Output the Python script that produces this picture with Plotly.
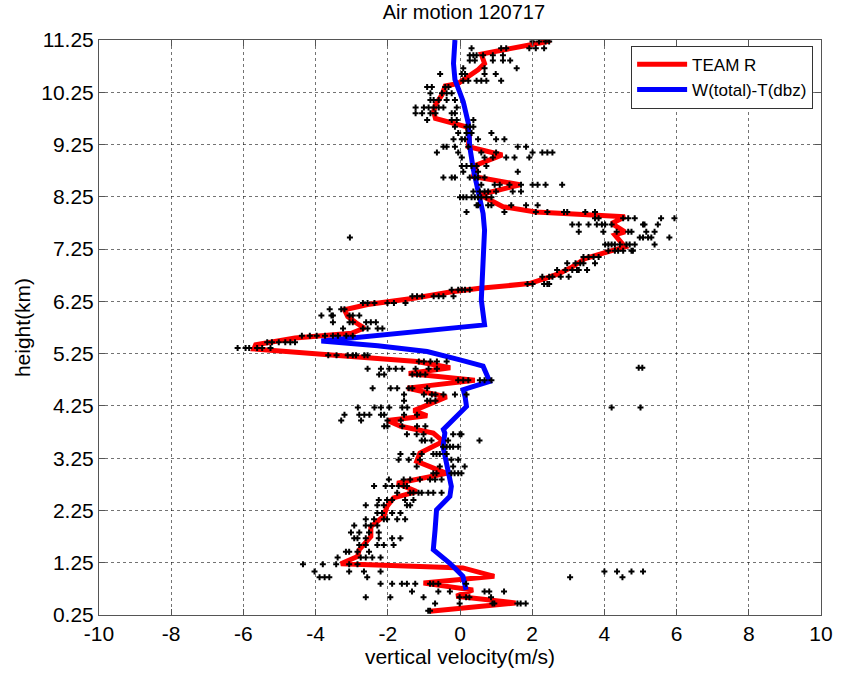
import plotly.graph_objects as go

# ---------------- data ----------------
team_r_x = [2.50, 2.42, 0.59, 0.68, 0.50, 0.18, -0.05, -0.41, -0.50, -0.68, -0.73, -0.68, 0.18, 0.27, 0.23,
            1.17, 0.46, 0.37, 1.66, 0.55, 1.19, 2.10, 3.74, 4.57, 4.20, 4.57, 4.29, 4.57, 4.11, 3.47, 3.11,
            2.74, 2.37, 1.92, 0.55, -0.27, -1.28, -2.56, -3.20, -3.11, -2.88, -2.65, -3.01, -4.57, -5.66,
            -5.71, -3.65, -2.28, -1.19, -0.27, -1.42, 0.41, -1.46, -0.37, -1.28, -0.91, -2.01, -1.64,
            -0.74, -0.47, -1.11, -1.20, -0.37, -1.74, -1.20, -1.84, -2.02, -2.11, -2.47, -2.47, -2.79,
            -2.84, -3.30, 0.08, 0.95, -1.01, 0.36, -0.10, 1.54, -0.83]
team_r_y = [11.25, 11.22, 10.98, 10.80, 10.68, 10.52, 10.42, 10.37, 10.20, 10.01, 9.88, 9.75, 9.59, 9.47, 9.21,
            9.05, 8.86, 8.64, 8.48, 8.29, 8.06, 7.96, 7.90, 7.87, 7.74, 7.58, 7.52, 7.29, 7.20, 7.07, 6.91,
            6.78, 6.69, 6.59, 6.50, 6.43, 6.31, 6.19, 6.09, 5.96, 5.84, 5.74, 5.64, 5.55, 5.42,
            5.34, 5.23, 5.17, 5.10, 4.98, 4.87, 4.74, 4.59, 4.42, 4.16, 4.06, 3.97, 3.86,
            3.73, 3.57, 3.35, 3.19, 2.96, 2.77, 2.61, 2.49, 2.33, 2.14, 1.94, 1.75, 1.50,
            1.37, 1.23, 1.15, 0.99, 0.86, 0.73, 0.61, 0.48, 0.32]

w_total_x = [-0.14, -0.18, -0.14, 0.09, 0.23, 0.27, 0.37, 0.55, 0.64, 0.68, 0.64, 0.59, 0.68, -3.84,
             -2.28, -0.91, 0.00, 0.64, 0.82, 0.09, 0.14, 0.18, -0.46, -0.42, -0.47, -0.33, -0.24,
             -0.28, -0.65, -0.69, -0.74, -0.28, 0.08, 0.17]
w_total_y = [11.25, 10.80, 10.49, 10.07, 9.66, 9.21, 8.77, 8.26, 7.93, 7.61, 6.98, 6.28, 5.80, 5.49,
             5.40, 5.29, 5.13, 5.01, 4.72, 4.56, 4.43, 4.24, 3.80, 3.73, 3.47, 3.03, 2.71,
             2.52, 2.26, 1.88, 1.50, 1.24, 0.99, 0.73]

# scattered raw samples, grouped by height row
rows = [
    (11.22, [2.01, 2.19, 2.37, 2.47]),
    (11.09, [0.32, 1.14, 1.28, 1.92, 2.10, 2.33]),
    (10.96, [0.27, 0.37, 0.46, 0.64, 0.91, 1.19]),
    (10.86, [0.27, 0.41, 0.91, 1.19, 1.39]),
    (10.71, [0.09, 0.68, 1.57]),
    (10.60, [-0.55, 0.05, 0.14, 0.68, 0.99]),
    (10.47, [0.09, 0.23, 0.46, 0.59, 0.73, 1.14]),
    (10.35, [-0.91, -0.78, -0.41, -0.32]),
    (10.23, [-0.82, -0.50, -0.37, -0.23]),
    (10.10, [-0.82, -0.73, -0.59, -0.37, -0.14]),
    (9.96, [-1.23, -1.00, -0.87, -0.73, -0.59, -0.46, -0.09]),
    (9.85, [-1.23, -1.05, -0.82, -0.68, -0.23, -0.14]),
    (9.72, [-0.91, -0.23, -0.09, 0.37]),
    (9.59, [-0.14, 0.18, 0.27, 0.37]),
    (9.47, [-0.05, 0.18, 0.32, 0.87]),
    (9.35, [-0.18, 0.05, 0.14, 0.50, 1.00, 1.23]),
    (9.21, [-0.46, -0.37, -0.14, 0.23, 1.60, 1.83]),
    (9.10, [-0.64, -0.05, 0.59, 1.00, 2.01, 2.28, 2.42, 2.56]),
    (9.00, [0.05, 0.68, 0.91, 1.28, 1.51, 1.92]),
    (8.84, [0.05, 0.18, 0.32, 0.46, 0.73]),
    (8.73, [0.09, 0.50, 1.60]),
    (8.62, [-0.46, -0.23, -0.14, 0.27, 0.41, 0.50, 0.68]),
    (8.48, [0.59, 0.96, 1.10, 1.37, 1.69, 2.01, 2.15, 2.37, 2.83]),
    (8.35, [0.37, 0.55, 0.68, 0.78, 1.00, 1.46, 1.69]),
    (8.24, [0.00, 0.09, 0.18, 0.32, 0.41, 0.50, 0.59, 0.73, 0.87]),
    (8.09, [0.46, 0.50, 0.78, 0.87, 1.42, 1.83, 2.15]),
    (7.96, [0.18, 1.23, 2.10, 2.42, 2.88, 2.97, 3.47, 3.74]),
    (7.84, [3.74, 3.84, 4.52, 4.66, 4.84, 5.57, 5.94]),
    (7.72, [3.11, 3.29, 3.56, 3.79, 3.93, 4.02, 4.20, 5.07, 5.11, 5.48]),
    (7.58, [3.29, 3.97, 4.34, 4.66, 4.75, 5.16, 5.39]),
    (7.47, [-3.05, 4.98, 5.07, 5.21, 5.30, 5.80]),
    (7.34, [4.02, 4.11, 4.20, 4.29, 4.43, 4.61, 4.70, 4.84, 5.39]),
    (7.22, [4.11, 4.29, 4.38, 4.52, 4.75, 4.79]),
    (7.10, [3.42, 3.56, 3.70, 3.84]),
    (6.98, [2.97, 3.20, 3.33, 3.42, 3.74]),
    (6.85, [2.69, 2.92, 3.11, 3.24, 3.29, 3.52]),
    (6.72, [2.28, 2.47, 2.56, 2.79, 3.01]),
    (6.58, [1.87, 2.01, 2.33, 2.42, 2.47]),
    (6.47, [-0.23, -0.05, 0.05, 0.14, 0.27]),
    (6.35, [-1.32, -1.19, -1.05, -0.73, -0.59, -0.46, -0.18]),
    (6.22, [-2.69, -2.56, -2.37, -2.01, -1.83, -1.51]),
    (6.10, [-3.61, -3.29, -3.20]),
    (5.98, [-3.84, -3.56, -3.52, -3.06, -2.97, -2.79]),
    (5.85, [-3.52, -3.06, -2.97, -2.60, -2.47, -2.33]),
    (5.73, [-3.24, -2.69, -2.56, -2.28, -2.15]),
    (5.59, [-4.38, -4.16, -3.97, -3.74, -3.52, -3.38, -3.15, -2.97]),
    (5.47, [-5.34, -5.21, -5.02, -4.84, -4.70, -4.57]),
    (5.36, [-6.16, -5.94, -5.84, -5.62, -5.48, -5.25]),
    (5.22, [-3.65, -3.42, -3.11, -2.97, -2.88, -2.65, -2.56]),
    (5.10, [-1.14, -1.00, -0.82, -0.64, -0.37]),
    (4.98, [4.95, 5.05]),
    (4.96, [-2.56, -2.19, -1.96, -1.78, -1.60, -1.23, -0.87, -0.64]),
    (4.85, [-2.24, -2.10, -1.32, -1.19, -1.10, -0.96]),
    (4.74, [-0.05, 0.09, 0.23, 0.55, 0.68, 0.87]),
    (4.59, [-2.42, -1.92, -1.74, -1.42, -1.32, -0.91]),
    (4.47, [-1.55, -1.00, -0.78, -0.68, -0.46, -0.14, 0.18]),
    (4.35, [-1.55, -0.91, -0.82, -0.68]),
    (4.22, [-2.83, -2.37, -2.19, -1.96, -1.60, -1.46, 4.20, 5.00]),
    (4.08, [-3.20, -2.79, -2.65, -2.51, -2.19, -2.10, -1.55, -1.19]),
    (3.97, [-3.29, -2.74, -2.01, -1.64]),
    (3.86, [-2.10, -2.01, -1.60, -1.19, -0.96]),
    (3.71, [-1.47, -1.20, -1.01, -0.19, -0.01, 0.04]),
    (3.59, [-1.06, -0.97, -0.79, -0.33, 0.54]),
    (3.47, [-0.47, -0.37, -0.28, -0.19, -0.05]),
    (3.33, [-1.65, -1.29, -1.06, -0.74, -0.65, -0.56, -0.37]),
    (3.22, [-1.70, -1.42, -1.11, -0.24, -0.05]),
    (3.09, [-1.20, -0.56, -0.19, 0.13]),
    (2.96, [-0.74, -0.65, -0.24, -0.15, -0.05, 0.04]),
    (2.84, [-1.97, -1.56, -1.38, -1.11, -0.83, -0.69, -0.51]),
    (2.72, [-2.38, -2.06, -1.88, -1.70, -1.56, -1.47]),
    (2.59, [-1.74, -1.38, -1.29, -1.15, -1.06, -0.88, -0.74, -0.51]),
    (2.45, [-2.25, -2.02, -1.88, -1.52, -1.29]),
    (2.35, [-2.61, -2.29, -2.11, -1.47, -1.38]),
    (2.20, [-2.29, -2.16, -1.88, -1.65]),
    (2.08, [-2.61, -2.38, -2.11, -2.02, -1.74, -1.52]),
    (1.96, [-2.93, -2.61, -2.47, -2.29]),
    (1.83, [-3.02, -2.79, -2.52, -2.25]),
    (1.72, [-2.93, -2.84, -2.61, -2.25, -1.88, -1.65]),
    (1.59, [-2.79, -2.61, -2.29, -2.11, -1.84]),
    (1.46, [-3.16, -3.07, -2.84, -2.52]),
    (1.35, [-3.39, -2.75, -2.61, -2.43, -2.20]),
    (1.22, [-4.35, -3.80, -3.43, -3.07, -2.84]),
    (1.08, [-4.03, -3.07, -2.66, -2.20, 4.00, 4.35, 4.75, 5.07]),
    (0.97, [-3.89, -3.75, -3.62, -2.57, 3.05, 4.50]),
    (0.85, [-2.20, -1.88, -1.61, -1.47, -1.24, -0.83, -0.74, -0.60, 0.17]),
    (0.70, [-1.33, -0.60, -0.28, 0.68, 0.81, 1.22]),
    (0.59, [-2.61, -1.93, -1.01, -0.01, 0.17, 0.26, 0.86]),
    (0.47, [-0.69, -0.01, 0.90, 0.95, 1.59, 1.68, 1.82]),
    (0.33, [-0.88, -0.83]),
]
pts_x = [x for h, xs in rows for x in xs]
pts_y = [h for h, xs in rows for x in xs]

y_ticks = [0.25 + i for i in range(12)]
y_tick_text = ["%.2f" % v for v in y_ticks]
x_ticks = list(range(-10, 11, 2))

# ---------------- figure ----------------
FONT = "Liberation Sans, Arial, sans-serif"
fig = go.Figure()
fig.add_trace(go.Scatter(x=team_r_x, y=team_r_y, mode="lines", name="TEAM R",
                         line=dict(color="#ff0000", width=5)))
fig.add_trace(go.Scatter(x=w_total_x, y=w_total_y, mode="lines", name="W(total)-T(dbz)",
                         line=dict(color="#0000ff", width=5)))
fig.add_trace(go.Scatter(x=pts_x, y=pts_y, mode="markers", showlegend=False,
                         marker=dict(symbol="cross", size=5, color="black", line=dict(width=0))))

axis_common = dict(showline=True, mirror="ticks", linecolor="#555555", linewidth=1,
                   ticks="inside", ticklen=6, tickcolor="#555555", tickwidth=1,
                   showgrid=True, gridcolor="rgba(0,0,0,0.55)", griddash="dot", gridwidth=1,
                   zeroline=False, tickfont=dict(family=FONT, size=21, color="black"))

fig.update_layout(
    width=845, height=679,
    margin=dict(l=99, r=16, t=40, b=64),
    paper_bgcolor="white", plot_bgcolor="white",
    font=dict(family=FONT, color="black"),
    title=dict(text="Air motion 120717", x=0.549, xanchor="center", y=0.992, yanchor="top",
               font=dict(family=FONT, size=20, color="black")),
    xaxis=dict(range=[-10, 10], tickvals=x_ticks, ticktext=[str(v) for v in x_ticks],
               title=dict(text="vertical velocity(m/s)", font=dict(family=FONT, size=21), standoff=2),
               **axis_common),
    yaxis=dict(range=[0.25, 11.25], tickvals=y_ticks, ticktext=y_tick_text,
               title=dict(text="height(km)", font=dict(family=FONT, size=21), standoff=4),
               **axis_common),
    legend=dict(x=0.737, y=0.99, xanchor="left", yanchor="top",
                bgcolor="white", bordercolor="#333333", borderwidth=1,
                font=dict(family=FONT, size=17, color="black"),
                itemwidth=50, tracegroupgap=0),
    showlegend=True,
)

fig.write_html("out.html")
